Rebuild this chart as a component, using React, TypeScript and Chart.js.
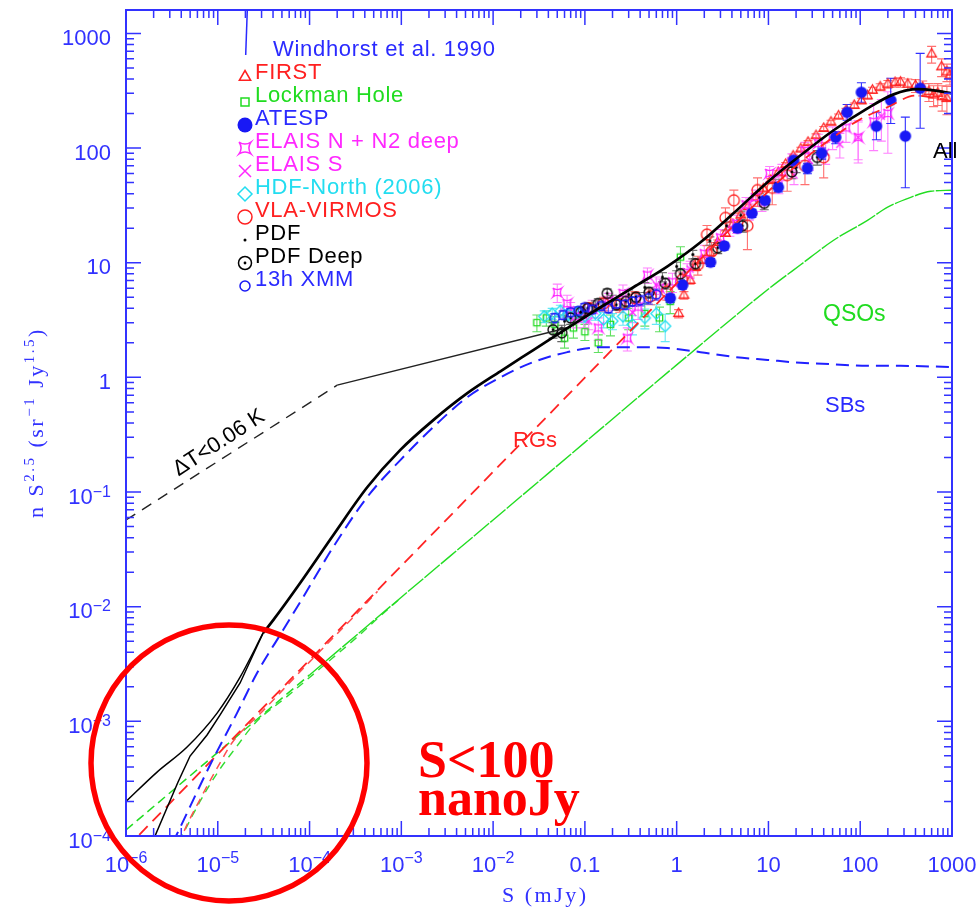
import React, { useEffect, useRef } from 'react';
import { Chart, registerables } from 'chart.js';

Chart.register(...registerables);

// ---------- model curves: S (mJy) vs n S^2.5 (sr^-1 Jy^1.5) ----------
const allS = [3.12e-5, 4.0e-5, 7.9e-5, 1.81e-4, 4.25e-4, 9.7e-4, 2.23e-3, 5.24e-3, 0.012, 0.0274, 0.0644, 0.148, 0.338, 0.794, 1.82, 4.16, 9.77, 22.4, 51.3, 120, 231, 423, 631, 1000];
const allN = [5.9e-3, 7.6e-3, 0.0161, 0.042, 0.11, 0.232, 0.424, 0.728, 1.13, 1.73, 2.69, 4.09, 6.11, 9.31, 15.1, 27.0, 50.4, 86.5, 143, 222, 294, 326, 319, 300];

// two faint-end variants of the total counts
const allFaintAS = [1e-6, 2.18e-6, 4.63e-6, 9.83e-6, 1.75e-5, 3.12e-5];
const allFaintAN = [2.0e-4, 3.61e-4, 5.97e-4, 1.18e-3, 2.43e-3, 5.9e-3];
const allFaintBS = [1.83e-6, 2.07e-6, 3.69e-6, 4.99e-6, 7.64e-6, 1.06e-5, 1.75e-5, 3.12e-5];
const allFaintBN = [7.9e-5, 1.0e-4, 2.96e-4, 4.98e-4, 7.6e-4, 1.14e-3, 2.16e-3, 5.9e-3];

// star-forming galaxies
const sbS = [3.2e-6, 3.51e-6, 8.24e-6, 1.62e-5, 2.68e-5, 5.15e-5, 8.51e-5, 1.81e-4, 4.25e-4, 9.7e-4, 2.23e-3, 5.24e-3, 0.012, 0.0274, 0.0644, 0.148, 0.338, 0.794, 1.82, 4.16, 9.77, 22.4, 51.3, 120, 276, 1000];
const sbN = [8.6e-5, 1.0e-4, 4.16e-4, 1.18e-3, 2.64e-3, 6.25e-3, 0.0121, 0.0331, 0.0904, 0.189, 0.368, 0.672, 1.0, 1.36, 1.66, 1.83, 1.83, 1.8, 1.66, 1.51, 1.42, 1.34, 1.3, 1.26, 1.26, 1.23];

// radio galaxies
const rgS = [1e-6, 1e-5, 1e-4, 1e-3, 0.01, 0.1, 1, 10, 20, 50, 100, 200, 400, 1000];
const rgN = [7.8e-5, 5.18e-4, 3.43e-3, 0.0227, 0.15, 0.995, 6.59, 42, 70, 123, 178, 228, 287, 256];
const rgFaintS = [3.8e-6, 4.08e-6, 6.4e-6, 1.0e-5, 1.43e-5, 3.0e-5, 1.0e-4, 3.0e-4, 5.5e-4];
const rgFaintN = [8.5e-5, 1.0e-4, 2.08e-4, 4.0e-4, 6.5e-4, 1.2e-3, 3.3e-3, 8.1e-3, 0.0136];

// radio-quiet quasars (faint extrapolation below 1e-4 mJy drawn dashed)
const qsoS = [1e-6, 1e-5, 1e-4, 1e-3, 0.01, 0.1, 1, 10, 22.4, 51.3, 120, 199, 355, 586, 1000];
const qsoN = [1.13e-4, 5.36e-4, 2.54e-3, 0.0121, 0.0571, 0.271, 1.285, 5.9, 9.6, 15.7, 23.4, 30.5, 37.2, 42.0, 42.9];
const qsoFaintS = [3.8e-6, 4.08e-6, 6.4e-6, 1.0e-5, 1.6e-5, 2.5e-5, 5.7e-5, 1.31e-4, 3.4e-4, 5.5e-4, 1e-3];
const qsoFaintN = [8.9e-5, 1.0e-4, 2.0e-4, 3.6e-4, 6.0e-4, 9.5e-4, 1.65e-3, 2.9e-3, 5.55e-3, 7.9e-3, 0.012];

// Windhorst et al. 1990 fluctuation limit (dashed) and counts (solid)
const windLimitS = [1e-6, 2.0e-4];
const windLimitN = [0.057, 0.855];
const windCountS = [2.0e-4, 0.07];
const windCountN = [0.855, 2.75];

// ---------- observed source counts ----------
const firstS = [1.05, 1.2, 1.4, 1.6, 1.9, 2.3, 2.8, 3.4, 4.1, 5.0, 6.0, 7.3, 8.8, 10.6, 12.8, 15.4, 18.6, 22.5, 27, 33, 40, 48, 58, 70, 86, 103, 120, 136, 165, 200, 240, 275, 330, 400, 480, 560, 630, 700, 780, 880, 600, 770, 880, 950];
const firstN = [3.6, 5.2, 7.0, 9.1, 10.5, 12.2, 15.0, 18.0, 21.5, 26, 31, 37, 44, 52, 61, 72, 85, 98, 112, 128, 148, 168, 190, 212, 235, 258, 285, 319, 340, 360, 372, 375, 360, 350, 335, 310, 290, 300, 280, 270, 660, 510, 460, 430];
const firstErr = [0.3, 0.4, 0.5, 0.6, 0.6, 0.7, 0.8, 0.9, 1.0, 1.2, 1.4, 1.6, 1.8, 2.1, 2.4, 2.8, 3.2, 3.7, 4.2, 5, 6, 7, 8, 10, 12, 14, 17, 20, 24, 28, 32, 36, 40, 45, 50, 55, 60, 65, 70, 75, 110, 90, 80, 75];

const lockS = [0.03, 0.038, 0.047, 0.06, 0.075, 0.1, 0.14, 0.19, 0.3, 0.45, 0.65, 0.85, 1.1];
const lockN = [3.0, 3.3, 2.9, 2.2, 2.7, 2.5, 2.0, 2.9, 3.3, 3.6, 3.3, 4.6, 11.2];
const lockErr = [0.5, 0.5, 0.5, 0.4, 0.5, 0.4, 0.35, 0.6, 0.7, 0.8, 0.8, 1.0, 2.6];

const atespS = [0.85, 1.16, 2.34, 3.3, 4.6, 6.6, 9.2, 12.8, 18.8, 26.6, 38, 54, 72, 103, 150, 215, 310, 450];
const atespN = [4.9, 6.4, 10.1, 14, 20, 27, 35, 45.5, 78, 66.7, 90, 124, 205, 306, 155, 261, 127, 332];
const atespErrLo = [0.4, 0.5, 0.8, 1.1, 1.6, 2.2, 3, 4, 7, 7, 10, 15, 30, 55, 37, 97, 82, 183];
const atespErrHi = [0.4, 0.5, 0.8, 1.1, 1.6, 2.2, 3, 4, 7, 7, 10, 15, 35, 65, 50, 145, 59, 338];

const elaisNS = [0.05, 0.064, 0.08, 0.097, 0.12, 0.14, 0.18, 0.26, 0.29, 0.38, 0.48, 0.65, 0.9, 1.3, 2.0, 3.0, 4.5, 5.7, 7.2, 10.3, 14, 18, 25, 35, 50, 70, 95, 140, 200];
const elaisNN = [5.5, 4.4, 3.4, 3.3, 4.0, 2.7, 4.6, 5.4, 2.2, 4.1, 7.8, 6.0, 6.8, 8.2, 12, 16.5, 22, 32, 37, 60, 62, 76, 95, 110, 125, 150, 124, 170, 200];
const elaisNErr = [1.0, 0.8, 0.7, 0.6, 0.7, 0.6, 0.8, 1.0, 0.5, 0.9, 1.2, 1.2, 1.3, 1.6, 2.2, 3, 4, 5, 6, 9, 10, 13, 17, 22, 28, 38, 50, 75, 110];

const elaisSS = [0.07, 0.11, 0.17, 0.33, 0.6, 1.4, 3.8, 6.2, 8.5, 13, 19, 28, 42, 60, 95, 170];
const elaisSN = [3.9, 3.1, 4.4, 3.7, 6.4, 8.8, 20, 28, 33, 48, 58, 78, 92, 108, 124, 190];
const elaisSErr = [0.6, 0.5, 0.7, 0.7, 1.1, 1.5, 3, 4.5, 5, 8, 10, 14, 20, 26, 45, 75];

const hdfS = [0.036, 0.044, 0.054, 0.066, 0.083, 0.1, 0.13, 0.16, 0.2, 0.26, 0.33, 0.45, 0.6, 0.75];
const hdfN = [3.4, 3.6, 3.8, 3.5, 3.7, 3.4, 3.6, 3.2, 3.1, 3.4, 2.9, 3.3, 3.6, 2.8];
const hdfErr = [0.4, 0.4, 0.45, 0.4, 0.45, 0.4, 0.45, 0.5, 0.5, 0.55, 0.55, 0.65, 0.7, 0.75];

const virmosS = [0.11, 0.16, 0.24, 0.35, 0.52, 0.78, 1.15, 1.7, 2.14, 2.4, 3.4, 4.2, 5.9, 7.6, 11, 16, 25, 40];
const virmosN = [4.0, 4.4, 4.3, 4.9, 5.1, 5.6, 7.1, 9.6, 17.6, 12.5, 24.6, 35, 21, 43, 45, 58, 70, 83];
const virmosErr = [0.5, 0.6, 0.6, 0.7, 0.8, 0.9, 1.2, 1.8, 3.5, 2.5, 5.5, 8, 8, 12, 13, 16, 22, 28];

const pdfS = [0.06, 0.09, 0.13, 0.2, 0.3, 0.45, 0.7, 1.0, 1.5, 2.3, 3.5, 5.0, 8.0, 12, 20];
const pdfN = [3.1, 3.7, 4.2, 4.7, 5.3, 6.1, 7.5, 9.3, 11.8, 15.5, 21, 26, 37, 49, 68];
const pdfErr = [0.4, 0.4, 0.45, 0.5, 0.5, 0.6, 0.7, 0.8, 1.0, 1.3, 1.7, 2.2, 3, 4.5, 7];

const pdfDeepS = [0.045, 0.056, 0.07, 0.09, 0.107, 0.14, 0.175, 0.22, 0.28, 0.36, 0.5, 0.75, 1.1, 1.6, 2.8, 5.2, 9, 18, 34];
const pdfDeepN = [2.6, 2.45, 3.3, 3.7, 4.0, 4.4, 5.4, 4.3, 4.6, 5.0, 5.5, 6.6, 8.0, 9.8, 13.5, 21, 33, 62, 83];
const pdfDeepErr = [0.4, 0.4, 0.4, 0.4, 0.4, 0.45, 0.5, 0.45, 0.5, 0.5, 0.6, 0.7, 0.9, 1.1, 1.5, 2.5, 4, 8, 12];

const xmmS = [0.047, 0.058, 0.07, 0.085, 0.1, 0.12, 0.15, 0.18, 0.22, 0.27, 0.33, 0.4, 0.49, 0.6];
const xmmN = [3.3, 3.5, 3.7, 3.8, 4.1, 3.9, 4.2, 4.0, 4.4, 4.3, 4.6, 4.7, 4.9, 5.3];
const xmmErr = [0.3, 0.3, 0.3, 0.3, 0.3, 0.3, 0.35, 0.35, 0.4, 0.4, 0.45, 0.5, 0.55, 0.6];

// ---------- axes ----------
const xTickValues = [1e-6, 1e-5, 1e-4, 1e-3, 1e-2, 0.1, 1, 10, 100, 1000];
const xTickLabels = [['10', '−6'], ['10', '−5'], ['10', '−4'], ['10', '−3'], ['10', '−2'], ['0.1', ''], ['1', ''], ['10', ''], ['100', ''], ['1000', '']];
const yTickValues = [1e-4, 1e-3, 1e-2, 0.1, 1, 10, 100, 1000];
const yTickLabels = [['10', '−4'], ['10', '−3'], ['10', '−2'], ['10', '−1'], ['1', ''], ['10', ''], ['100', ''], ['1000', '']];

const legendNames = ['FIRST', 'Lockman Hole', 'ATESP', 'ELAIS N + N2 deep', 'ELAIS S', 'HDF-North (2006)', 'VLA-VIRMOS', 'PDF', 'PDF Deep', '13h XMM'];

const W = 978;
const H = 913;
const AXIS_BLUE = '#3232ff';
const SANS = '"Liberation Sans", Arial, Helvetica, sans-serif';
const SERIF = '"Liberation Serif", "Times New Roman", Times, serif';

const RED = '#ff2020';
const GREEN = '#20dc20';
const BLUE = '#1818f5';
const MAGENTA = '#ff28ff';
const CYAN = '#22ddf0';

type Kind = 'triangle' | 'square' | 'disc' | 'astroid' | 'cross' | 'diamond' | 'ring' | 'dot' | 'ringdot';

function drawSymbol(g: CanvasRenderingContext2D, kind: Kind, x: number, y: number, s: number, color: string, lw: number) {
  g.save();
  g.strokeStyle = color;
  g.fillStyle = color;
  g.lineWidth = lw;
  g.beginPath();
  switch (kind) {
    case 'triangle':
      g.moveTo(x, y - s);
      g.lineTo(x + s * 0.87, y + s * 0.5);
      g.lineTo(x - s * 0.87, y + s * 0.5);
      g.closePath();
      g.stroke();
      break;
    case 'square':
      g.rect(x - s, y - s, 2 * s, 2 * s);
      g.stroke();
      break;
    case 'disc':
    case 'dot':
      g.arc(x, y, s, 0, Math.PI * 2);
      g.fill();
      break;
    case 'astroid':
      g.moveTo(x - s, y - s);
      g.quadraticCurveTo(x, y - s * 0.3, x + s, y - s);
      g.quadraticCurveTo(x + s * 0.3, y, x + s, y + s);
      g.quadraticCurveTo(x, y + s * 0.3, x - s, y + s);
      g.quadraticCurveTo(x - s * 0.3, y, x - s, y - s);
      g.stroke();
      break;
    case 'cross':
      g.moveTo(x - s, y - s);
      g.lineTo(x + s, y + s);
      g.moveTo(x + s, y - s);
      g.lineTo(x - s, y + s);
      g.stroke();
      break;
    case 'diamond':
      g.moveTo(x, y - s);
      g.lineTo(x + s, y);
      g.lineTo(x, y + s);
      g.lineTo(x - s, y);
      g.closePath();
      g.stroke();
      break;
    case 'ring':
      g.arc(x, y, s, 0, Math.PI * 2);
      g.stroke();
      break;
    case 'ringdot':
      g.arc(x, y, s, 0, Math.PI * 2);
      g.stroke();
      g.beginPath();
      g.arc(x, y, 1.4, 0, Math.PI * 2);
      g.fill();
      break;
  }
  g.restore();
}

function symbolCanvas(kind: Kind, s: number, color: string) {
  const size = Math.ceil(2 * s + 6);
  const c = document.createElement('canvas');
  c.width = size;
  c.height = size;
  drawSymbol(c.getContext('2d')!, kind, size / 2, size / 2, s, color, 1.3);
  return c;
}

const pts = (xs: number[], ys: number[]) => xs.map((x, i) => ({ x, y: ys[i] }));

function curve(xs: number[], ys: number[], color: string, width: number, dash: number[] = [], smooth = true) {
  return {
    data: pts(xs, ys),
    showLine: true,
    borderColor: color,
    borderWidth: width,
    borderDash: dash,
    pointRadius: 0,
    fill: false,
    cubicInterpolationMode: smooth ? 'monotone' : 'default',
    tension: 0,
    order: 0,
  };
}

function survey(xs: number[], ys: number[], kind: Kind, s: number, color: string, errColor: string, lo: number[], hi: number[], order: number) {
  return {
    data: pts(xs, ys),
    showLine: false,
    pointStyle: symbolCanvas(kind, s, color),
    pointRadius: s + 1,
    errLo: lo,
    errHi: hi,
    errColor,
    order,
  };
}

const errorBarPlugin = {
  id: 'errorBars',
  beforeDatasetsDraw(chart: any) {
    const { ctx, chartArea: a, scales } = chart;
    ctx.save();
    ctx.beginPath();
    ctx.rect(a.left, a.top, a.right - a.left, a.bottom - a.top);
    ctx.clip();
    ctx.lineWidth = 1.1;
    chart.data.datasets.forEach((ds: any) => {
      if (!ds.errLo) return;
      ctx.strokeStyle = ds.errColor;
      ds.data.forEach((p: any, i: number) => {
        const px = scales.x.getPixelForValue(p.x);
        const lo = Math.max(p.y - ds.errLo[i], 1e-4);
        const hi = p.y + ds.errHi[i];
        const y1 = scales.y.getPixelForValue(lo);
        const y2 = scales.y.getPixelForValue(hi);
        ctx.beginPath();
        ctx.moveTo(px, y1);
        ctx.lineTo(px, y2);
        ctx.moveTo(px - 4.5, y1);
        ctx.lineTo(px + 4.5, y1);
        ctx.moveTo(px - 4.5, y2);
        ctx.lineTo(px + 4.5, y2);
        ctx.stroke();
      });
    });
    ctx.restore();
  },
};

function drawRich(ctx: CanvasRenderingContext2D, parts: [string, boolean][], x: number, y: number, font: string, supFont: string, raise: number) {
  let cx = x;
  parts.forEach(([t, sup]) => {
    ctx.font = sup ? supFont : font;
    ctx.fillText(t, cx, sup ? y - raise : y);
    cx += ctx.measureText(t).width;
  });
  return cx - x;
}

function richWidth(ctx: CanvasRenderingContext2D, parts: [string, boolean][], font: string, supFont: string) {
  let w = 0;
  parts.forEach(([t, sup]) => {
    ctx.font = sup ? supFont : font;
    w += ctx.measureText(t).width;
  });
  return w;
}

const legendKinds: Kind[] = ['triangle', 'square', 'disc', 'astroid', 'cross', 'diamond', 'ring', 'dot', 'ringdot', 'ring'];
const legendSizes = [6.5, 4, 7.5, 6, 6, 7, 7, 1.5, 6.5, 5];
const legendColors = [RED, GREEN, BLUE, MAGENTA, MAGENTA, CYAN, RED, '#000000', '#000000', BLUE];

const decorPlugin = {
  id: 'decor',
  afterDatasetsDraw(chart: any) {
    const { ctx, chartArea: a, scales } = chart;
    const xs = scales.x;
    const ys = scales.y;
    ctx.save();

    // frame
    ctx.strokeStyle = AXIS_BLUE;
    ctx.lineWidth = 2;
    ctx.strokeRect(a.left, a.top, a.right - a.left, a.bottom - a.top);

    // inward ticks on all four sides
    ctx.lineWidth = 1.5;
    ctx.beginPath();
    for (let e = -6; e <= 2; e++) {
      for (let m = 1; m <= 9; m++) {
        const px = xs.getPixelForValue(m * Math.pow(10, e));
        const len = m === 1 ? 15 : 8;
        ctx.moveTo(px, a.bottom);
        ctx.lineTo(px, a.bottom - len);
        ctx.moveTo(px, a.top);
        ctx.lineTo(px, a.top + len);
      }
    }
    for (let e = -4; e <= 3; e++) {
      for (let m = 1; m <= 9; m++) {
        const v = m * Math.pow(10, e);
        if (v > 1600) break;
        const py = ys.getPixelForValue(v);
        const len = m === 1 ? 15 : 8;
        ctx.moveTo(a.left, py);
        ctx.lineTo(a.left + len, py);
        ctx.moveTo(a.right, py);
        ctx.lineTo(a.right - len, py);
      }
    }
    ctx.stroke();

    // tick labels
    ctx.fillStyle = AXIS_BLUE;
    ctx.textAlign = 'left';
    ctx.textBaseline = 'alphabetic';
    const tf = `22px ${SANS}`;
    const sf = `16px ${SANS}`;
    yTickValues.forEach((v, i) => {
      const [b, e] = yTickLabels[i];
      const parts: [string, boolean][] = e ? [[b, false], [e, true]] : [[b, false]];
      const w = richWidth(ctx, parts, tf, sf);
      drawRich(ctx, parts, 111 - w, ys.getPixelForValue(v) + 11.5, tf, sf, 7);
    });
    xTickValues.forEach((v, i) => {
      const [b, e] = xTickLabels[i];
      const parts: [string, boolean][] = e ? [[b, false], [e, true]] : [[b, false]];
      const w = richWidth(ctx, parts, tf, sf);
      drawRich(ctx, parts, xs.getPixelForValue(v) - w / 2, a.bottom + 36, tf, sf, 9);
    });

    // axis titles
    (ctx as any).letterSpacing = '2.5px';
    const ttf = `22px ${SERIF}`;
    const tsf = `15px ${SERIF}`;
    drawRich(ctx, [['S (mJy)', false]], 502, 902, ttf, tsf, 9);
    ctx.save();
    ctx.translate(43, 518);
    ctx.rotate(-Math.PI / 2);
    drawRich(ctx, [['n S', false], ['2.5', true], [' (sr', false], ['−1', true], [' Jy', false], ['1.5', true], [')', false]], 0, 0, ttf, tsf, 9);
    ctx.restore();

    // legend
    (ctx as any).letterSpacing = '0.7px';
    ctx.font = `22px ${SANS}`;
    ctx.fillStyle = '#2a2aff';
    ctx.fillText('Windhorst et al. 1990', 273, 56);
    ctx.strokeStyle = '#2a2aff';
    ctx.lineWidth = 1.5;
    ctx.beginPath();
    ctx.moveTo(247.3, a.top);
    ctx.lineTo(245.7, 55);
    ctx.stroke();
    legendNames.forEach((name, i) => {
      const base = 79 + 23 * i;
      const sy = i === 0 ? base - 2 : base;
      drawSymbol(ctx, legendKinds[i], 245, sy, legendSizes[i], legendColors[i], 1.5);
      ctx.fillStyle = legendColors[i] === BLUE ? '#2a2aff' : legendColors[i];
      ctx.font = `22px ${SANS}`;
      ctx.fillText(name, 255, base);
    });

    // curve labels
    (ctx as any).letterSpacing = '0px';
    ctx.font = `22px ${SANS}`;
    ctx.fillStyle = '#000000';
    ctx.fillText('All', 933, 158);
    ctx.fillStyle = GREEN;
    ctx.font = `23px ${SANS}`;
    ctx.fillText('QSOs', 823, 321);
    ctx.fillStyle = '#2a2aff';
    ctx.font = `22px ${SANS}`;
    ctx.fillText('SBs', 825, 412);
    ctx.fillStyle = RED;
    ctx.fillText('RGs', 513, 447);

    ctx.save();
    ctx.translate(219, 443);
    ctx.rotate((-33 * Math.PI) / 180);
    ctx.fillStyle = '#000000';
    ctx.font = `22px ${SANS}`;
    ctx.textAlign = 'center';
    ctx.textBaseline = 'middle';
    ctx.fillText('ΔT<0.06 K', 0, 0);
    ctx.restore();

    // faint-flux annotation
    ctx.strokeStyle = '#ff0000';
    ctx.lineWidth = 5.5;
    ctx.beginPath();
    ctx.arc(229, 763, 138, 0, Math.PI * 2);
    ctx.stroke();
    ctx.fillStyle = '#ff0000';
    ctx.font = `bold 52px ${SERIF}`;
    ctx.textAlign = 'left';
    ctx.fillText('S<100', 418, 777);
    ctx.fillText('nanoJy', 418, 815);

    ctx.restore();
  },
};

export default function App() {
  const ref = useRef<HTMLCanvasElement>(null);

  useEffect(() => {
    const canvas = ref.current;
    if (!canvas) return;
    const datasets: any[] = [
      curve(allS, allN, '#000000', 2.7),
      curve(allFaintAS, allFaintAN, '#000000', 1.5),
      curve(allFaintBS, allFaintBN, '#000000', 1.5, [], false),
      curve(sbS, sbN, '#2020ff', 2, [13, 7]),
      curve(rgS, rgN, '#ff2424', 1.8, [12, 7]),
      curve(rgFaintS, rgFaintN, '#ff5050', 1.5, [8, 6]),
      curve(qsoS.slice(0, 3), qsoN.slice(0, 3), '#22dd22', 1.5, [9, 5], false),
      curve(qsoS.slice(2), qsoN.slice(2), '#22dd22', 1.4, [20, 1.5]),
      curve(qsoFaintS, qsoFaintN, '#33dd33', 1.4, [8, 6]),
      curve(windLimitS, windLimitN, '#222222', 1.4, [11, 8], false),
      curve(windCountS, windCountN, '#222222', 1.3, [], false),
      survey(firstS, firstN, 'triangle', 5.5, RED, '#ff7070', firstErr, firstErr, 9),
      survey(lockS, lockN, 'square', 3.2, GREEN, '#60e060', lockErr, lockErr, 8),
      survey(elaisNS, elaisNN, 'astroid', 4.5, MAGENTA, '#ff80ff', elaisNErr, elaisNErr, 7),
      survey(elaisSS, elaisSN, 'cross', 3.5, MAGENTA, '#ff80ff', elaisSErr, elaisSErr, 6),
      survey(hdfS, hdfN, 'diamond', 5.5, CYAN, '#66e8f5', hdfErr, hdfErr, 5),
      survey(virmosS, virmosN, 'ring', 5.5, RED, '#ff7070', virmosErr, virmosErr, 4),
      survey(pdfS, pdfN, 'dot', 1.5, '#000000', '#777777', pdfErr, pdfErr, 3),
      survey(pdfDeepS, pdfDeepN, 'ringdot', 5, '#000000', '#666666', pdfDeepErr, pdfDeepErr, 3),
      survey(xmmS, xmmN, 'ring', 4.5, BLUE, '#5050ff', xmmErr, xmmErr, 2),
      survey(atespS, atespN, 'disc', 5.8, BLUE, '#3030ff', atespErrLo, atespErrHi, 1),
    ];

    const chart = new Chart(canvas, {
      type: 'scatter',
      data: { datasets },
      options: {
        animation: false,
        responsive: false,
        devicePixelRatio: 1,
        events: [],
        layout: { padding: { left: 126, top: 10, right: W - 952, bottom: H - 836 } },
        plugins: { legend: { display: false }, tooltip: { enabled: false } },
        scales: {
          x: { type: 'logarithmic', min: 1e-6, max: 1000, display: false },
          y: { type: 'logarithmic', min: 1e-4, max: 1600, display: false },
        },
      } as any,
      plugins: [errorBarPlugin, decorPlugin],
    });
    return () => chart.destroy();
  }, []);

  return (
    <div style={{ position: 'absolute', left: 0, top: 0, width: W, height: H, background: '#ffffff' }}>
      <canvas ref={ref} width={W} height={H} style={{ display: 'block', width: W, height: H }} />
    </div>
  );
}
